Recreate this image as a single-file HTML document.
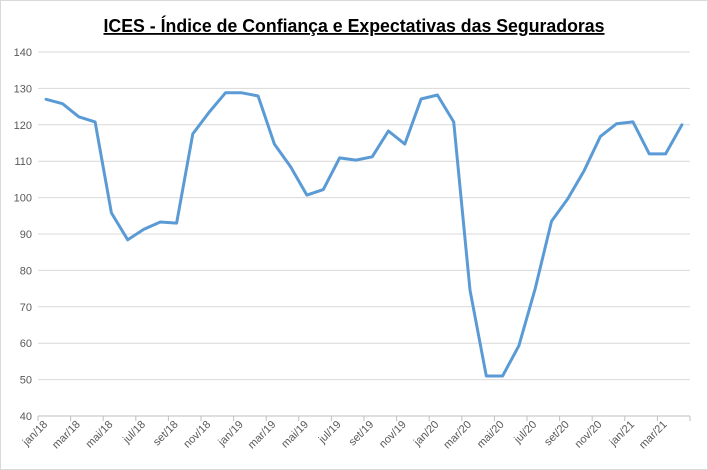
<!DOCTYPE html>
<html><head><meta charset="utf-8"><style>
body{margin:0;background:#fff;font-family:"Liberation Sans",Arial,sans-serif}
svg{display:block}
</style></head><body>
<svg id="chart" width="708" height="470">
<rect x="0.5" y="0.5" width="707" height="469" fill="#fff" stroke="#d9d9d9"/>
<text x="354" y="32" text-anchor="middle" font-size="18" font-weight="bold" fill="#000" text-decoration="underline" textLength="501" lengthAdjust="spacingAndGlyphs">ICES - Índice de Confiança e Expectativas das Seguradoras</text>
<g id="grid"></g><g id="axes"></g><g id="series"></g>
</svg>
<script>
const categories=["jan/18","fev/18","mar/18","abr/18","mai/18","jun/18","jul/18","ago/18","set/18","out/18","nov/18","dez/18","jan/19","fev/19","mar/19","abr/19","mai/19","jun/19","jul/19","ago/19","set/19","out/19","nov/19","dez/19","jan/20","fev/20","mar/20","abr/20","mai/20","jun/20","jul/20","ago/20","set/20","out/20","nov/20","dez/20","jan/21","fev/21","mar/21","abr/21"];
const values=[127,125.8,122.2,120.8,95.8,88.4,91.3,93.3,93.0,117.5,123.5,128.8,128.8,127.9,114.7,108.5,100.7,102.2,110.9,110.3,111.2,118.3,114.7,127.1,128.2,120.8,74.6,51,51,59.3,75,93.5,99.7,107.4,116.8,120.3,120.8,112,112,120];
const yTicks=[40,50,60,70,80,90,100,110,120,130,140];
const NS="http://www.w3.org/2000/svg";
const L=38,R=690,T=52,B=416,yMin=40,yMax=140;
const step=(R-L)/categories.length;
const xs=i=>L+step*(i+0.5);
const ys=v=>B-(v-yMin)/(yMax-yMin)*(B-T);
function mk(tag,attrs,parent){const e=document.createElementNS(NS,tag);for(const k in attrs)e.setAttribute(k,attrs[k]);parent.appendChild(e);return e;}
const grid=document.getElementById('grid'),axes=document.getElementById('axes'),series=document.getElementById('series');
yTicks.forEach(t=>{
 const y=ys(t);
 if(t>yMin){const g=mk('line',{x1:L,x2:R,y1:y,y2:y,stroke:'#d9d9d9','stroke-width':1},grid);
 
 }
 const tx=mk('text',{x:L-6,y:y+4,'text-anchor':'end','font-size':11,fill:'#595959'},axes);
 tx.textContent=t;
 
 
});
const ax=mk('line',{x1:L,x2:R,y1:B,y2:B,stroke:'#bfbfbf'},axes);


for(let i=0;i<=categories.length;i+=2){
 const x=L+step*i;
 const tk=mk('line',{x1:x,x2:x,y1:B,y2:B+5,stroke:'#bfbfbf'},axes);
 
 
}
categories.forEach((c,i)=>{
 if(i%2)return;
 const x=xs(i)+2,y=B+9;
 const tx=mk('text',{x:x,y:y,'text-anchor':'end','font-size':11,fill:'#595959',transform:`rotate(-45 ${x} ${y})`},axes);
 tx.textContent=c;
 
 
});
const pts=values.map((v,i)=>xs(i).toFixed(1)+','+ys(v).toFixed(1)).join(' ');
const pl=mk('polyline',{points:pts,fill:'none',stroke:'#5b9bd5','stroke-width':3,'stroke-linejoin':'round','stroke-linecap':'round'},series);


</script>
</body></html>
